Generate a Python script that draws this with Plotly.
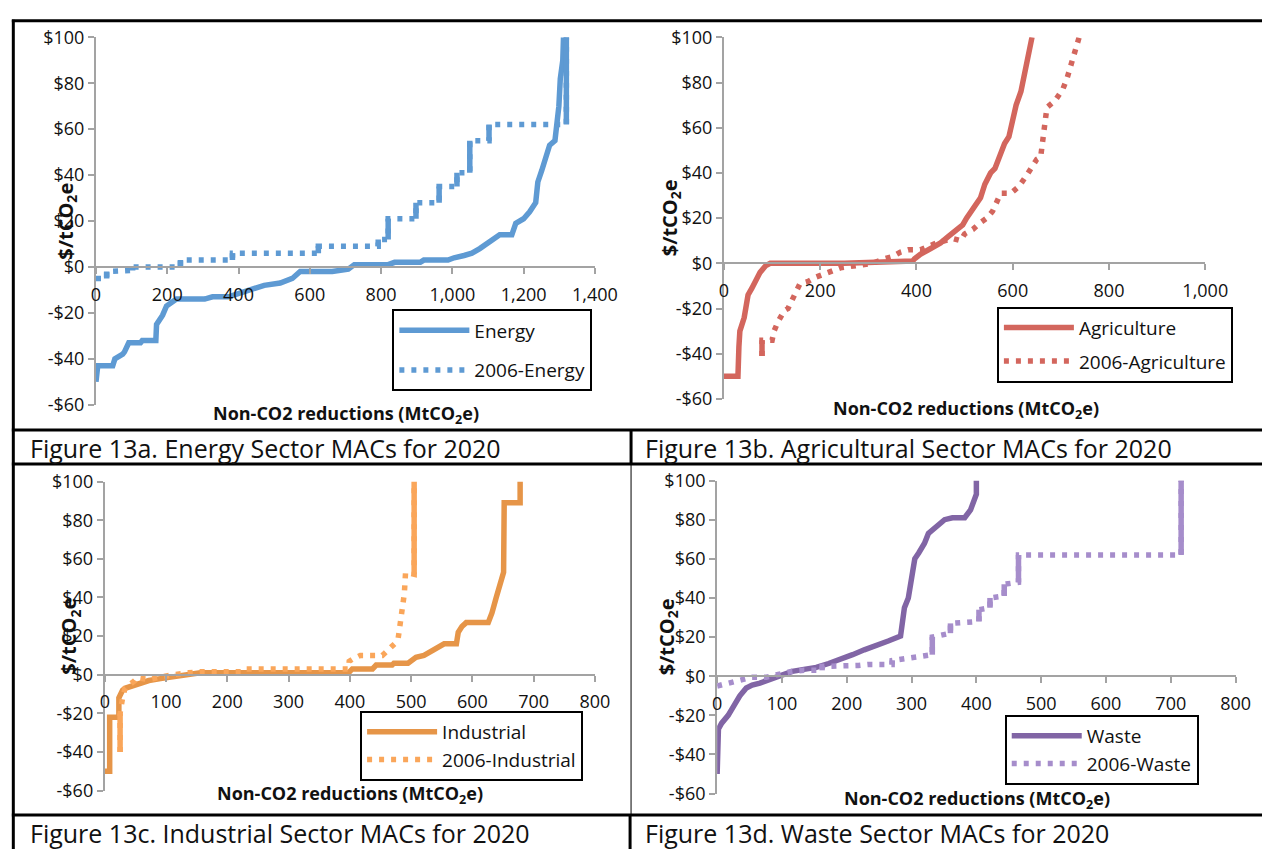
import plotly.graph_objects as go

W, H = 1285, 860
FONT = "Open Sans"

# ---------------- data ----------------
energy_x = [0, 3, 5, 47, 53, 75, 80, 92, 125, 130, 168, 170, 187, 198, 226, 305, 327, 372, 394, 428,
            472, 517, 551, 573, 663, 708, 725, 820, 838, 910, 920, 988, 1005, 1033, 1055, 1077, 1094,
            1117, 1133, 1167, 1178, 1200, 1217, 1234, 1240, 1251, 1262, 1273, 1288, 1293, 1299, 1303,
            1310, 1312]
energy_y = [-50, -45, -43, -43, -40, -38, -37, -33, -33, -32, -32, -25, -21, -17, -14, -14, -13, -13,
            -12, -10, -8, -7, -5, -2, -2, -1, 1, 1, 2, 2, 3, 3, 4, 5, 6, 8, 10, 12, 14, 14, 19, 21, 24,
            28, 37, 42, 48, 53, 55, 62, 70, 82, 90, 100]

energy06_x = [0, 30, 30, 69, 103, 103, 237, 237, 383, 383, 624, 624, 792, 792, 820, 820, 898, 898,
              963, 963, 1013, 1013, 1049, 1049, 1103, 1103, 1320, 1320]
energy06_y = [-5, -5, -2, -1.5, -1.5, 0, 0, 3, 3, 6, 6, 9, 9, 12, 12, 21, 21, 28, 28, 35, 35, 41, 41,
              55, 55, 62, 62, 100]

agri_x = [0, 29, 31, 33, 42, 50, 58, 67, 75, 87, 96, 250, 330, 392, 396, 408, 425, 450, 467, 483, 496,
          504, 517, 533, 542, 554, 563, 571, 583, 592, 598, 607, 617, 625, 632, 637, 640]
agri_y = [-50, -50, -37, -30, -24, -14, -11, -7, -4, -1, 0, 0, 0.5, 1, 2, 4, 6, 9, 12, 15, 17, 20, 24,
          29, 35, 40, 42, 47, 53, 56, 62, 70, 76, 84, 90, 95, 100]

agri06_x = [79, 79, 100, 104, 112, 125, 133, 146, 158, 175, 192, 217, 242, 275, 308, 333, 350, 367, 383,
            408, 442, 475, 492, 500, 517, 533, 546, 558, 567, 575, 596, 613, 629, 642, 650, 658, 663,
            667, 671, 688, 704, 713, 721, 729, 738]
agri06_y = [-41, -34, -34, -30, -26, -21, -20, -14, -9, -8, -6, -4, -2, -1, 0, 2, 3, 5, 6, 6, 9, 11, 10,
            13, 15, 18, 20, 23, 27, 31, 31, 34, 39, 43, 46, 47, 55, 65, 69, 72, 77, 82, 88, 94, 100]

ind_x = [0, 8, 8, 23, 23, 29, 33, 52, 59, 72, 91, 111, 130, 156, 398, 404, 437, 443, 469, 472, 495, 499,
         508, 521, 538, 551, 554, 574, 577, 583, 590, 626, 632, 639, 644, 651, 652, 678, 678]
ind_y = [-50, -50, -22, -22, -12, -8, -7, -5, -4, -3, -2, -1, 0, 1, 1, 3, 3, 5, 5, 6, 6, 7, 9, 10, 13,
         15, 16, 16, 22, 25, 27, 27, 32, 40, 46, 53, 89, 89, 100]

ind06_x = [25, 25, 29, 33, 49, 52, 72, 91, 111, 137, 156, 222, 228, 398, 399, 404, 417, 433, 453, 463,
           473, 479, 482, 486, 489, 491, 505, 505]
ind06_y = [-40, -20, -12, -7, -3, -1.5, -2.5, -1, 0, 1, 1.5, 1.5, 3, 3, 7, 8, 10, 10, 10, 13, 16, 19,
           25, 35, 42, 53, 52, 100]

waste_x = [0, 2, 7, 17, 26, 35, 45, 54, 66, 79, 97, 116, 134, 153, 172, 190, 209, 227, 246, 264, 283,
           286, 289, 295, 299, 305, 311, 320, 326, 339, 351, 363, 382, 391, 398, 400, 400]
waste_y = [-50, -27, -24, -20, -15, -10, -6, -4.5, -3.5, -2, 0, 2.5, 3.5, 4.5, 6.5, 8.5, 11, 13.5, 15.5,
           18, 20.5, 30, 35, 40, 50, 60, 63, 68, 73, 77, 80, 81, 81, 85, 90, 93, 100]

waste06_x = [0, 17, 35, 54, 76, 91, 100, 116, 134, 162, 162, 181, 199, 218, 233, 270, 270, 289, 305,
             320, 332, 332, 351, 360, 360, 379, 404, 404, 421, 421, 443, 443, 465, 465, 716, 716]
waste06_y = [-5, -3.5, -1.5, -0.5, -0.5, 0.5, 1.5, 2.5, 3, 3, 5, 5, 5.5, 5.5, 6, 6, 8, 9, 10, 10.5, 11,
             20, 21, 22, 27, 27.5, 28, 34, 35, 40, 41, 47, 48, 62, 62, 100]

y_tickvals = [-60, -40, -20, 0, 20, 40, 60, 80, 100]
y_ticktext = ["-$60", "-$40", "-$20", "$0", "$20", "$40", "$60", "$80", "$100"]
x_ticks_a = [0, 200, 400, 600, 800, 1000, 1200, 1400]
x_ticks_b = [0, 200, 400, 600, 800, 1000]
x_ticks_cd = [0, 100, 200, 300, 400, 500, 600, 700, 800]

captions = ["Figure 13a. Energy Sector MACs for 2020",
            "Figure 13b. Agricultural Sector MACs for 2020",
            "Figure 13c. Industrial Sector MACs for 2020",
            "Figure 13d. Waste Sector MACs for 2020"]

# ---------------- helpers ----------------
def px(p):
    return p / W


def py(p):
    return 1 - p / H


def vertical_parts(xs, ys):
    vx, vy = [], []
    for i in range(len(xs) - 1):
        if xs[i] == xs[i + 1]:
            vx += [xs[i], xs[i + 1], None]
            vy += [ys[i], ys[i + 1], None]
    return vx, vy


BLUE = "#5E9AD3"
RED = "#D3665D"
ORANGE = "#E69548"
ORANGE_L = "#FAA65A"
PURPLE = "#8165A5"
PURPLE_L = "#A68DCB"
AXIS = "#A3A3A3"
TXT = "#111111"

panels = [
    dict(sfx="", leg="legend", x0=93, x1=603, top=25, bot=403, xmax=1400, ticks=x_ticks_a,
         name="Energy", sx=energy_x, sy=energy_y, dx=energy06_x, dy=energy06_y, c1=BLUE, c2=BLUE,
         legpos=(396, 305), gap=12, xtitle=(349, 413), ytx=62, cap=(24, 447)),
    dict(sfx="2", leg="legend2", x0=735, x1=1227, top=25, bot=397, xmax=1000, ticks=x_ticks_b,
         name="Agriculture", sx=agri_x, sy=agri_y, dx=agri06_x, dy=agri06_y, c1=RED, c2=RED,
         legpos=(1014, 302), gap=6, xtitle=(982, 408), ytx=680, cap=(652, 447)),
    dict(sfx="3", leg="legend3", x0=102, x1=603, top=482, bot=800, xmax=800, ticks=x_ticks_cd,
         name="Industrial", sx=ind_x, sy=ind_y, dx=ind06_x, dy=ind06_y, c1=ORANGE, c2=ORANGE_L,
         legpos=(363, 718), gap=0, xtitle=(353, 804), ytx=66, cap=(24, 844)),
    dict(sfx="4", leg="legend4", x0=728, x1=1258, top=481, bot=803, xmax=800, ticks=x_ticks_cd,
         name="Waste", sx=waste_x, sy=waste_y, dx=waste06_x, dy=waste06_y, c1=PURPLE, c2=PURPLE_L,
         legpos=(1022, 722), gap=0, xtitle=(994, 809), ytx=677, cap=(652, 844)),
]

fig = go.Figure()
layout = dict(width=W, height=H, margin=dict(l=0, r=0, t=0, b=0), autosize=False,
              paper_bgcolor="white", plot_bgcolor="white", showlegend=True,
              font=dict(family=FONT, color=TXT))
annotations = []
shapes = []

for p in panels:
    xa = "x" + p["sfx"]
    ya = "y" + p["sfx"]
    ybot, ytop = py(p["bot"]), py(p["top"])
    zero_pos = ybot + (0 - (-60)) / 160 * (ytop - ybot)
    layout["xaxis" + p["sfx"]] = dict(
        domain=[px(p["x0"]), px(p["x1"])], range=[0, p["xmax"]], anchor="free", position=zero_pos,
        showline=True, linecolor=AXIS, linewidth=2, ticks="outside", ticklen=6, tickwidth=2,
        tickcolor=AXIS, tickvals=p["ticks"], tickformat=",d", showgrid=False, zeroline=False,
        ticklabelstandoff=5, tickfont=dict(family=FONT, size=18, color=TXT))
    layout["yaxis" + p["sfx"]] = dict(
        domain=[ybot, ytop], range=[-60, 100], anchor=xa, showline=True, linecolor=AXIS,
        linewidth=2, ticks="outside", ticklen=6, tickwidth=2, tickcolor=AXIS,
        tickvals=y_tickvals, ticktext=y_ticktext, showgrid=False, zeroline=False,
        tickfont=dict(family=FONT, size=18, color=TXT))

    fig.add_trace(go.Scatter(x=p["sx"], y=p["sy"], mode="lines", name=p["name"],
                             line=dict(color=p["c1"], width=5.5), xaxis=xa, yaxis=ya,
                             legend=p["leg"], legendgroup=p["name"] + "a", hoverinfo="skip"))
    fig.add_trace(go.Scatter(x=p["dx"], y=p["dy"], mode="lines", name="2006-" + p["name"],
                             line=dict(color=p["c2"], width=5.5, dash="5px,7px"), xaxis=xa, yaxis=ya,
                             legend=p["leg"], legendgroup=p["name"] + "b", hoverinfo="skip"))
    vx, vy = vertical_parts(p["dx"], p["dy"])
    fig.add_trace(go.Scatter(x=vx, y=vy, mode="lines", showlegend=False,
                             line=dict(color=p["c2"], width=5.5), xaxis=xa, yaxis=ya,
                             legendgroup=p["name"] + "b", hoverinfo="skip"))

    lx, ly = p["legpos"]
    layout[p["leg"]] = dict(x=px(lx), y=py(ly), xanchor="left", yanchor="top",
                            bordercolor="black", borderwidth=2, bgcolor="white",
                            font=dict(family=FONT, size=19, color=TXT),
                            itemwidth=70, tracegroupgap=p["gap"])

    annotations.append(dict(text="Non-CO2 reductions (MtCO<sub>2</sub>e)", xref="paper", yref="paper",
                            x=px(p["xtitle"][0]), y=py(p["xtitle"][1]), showarrow=False,
                            font=dict(family=FONT, size=18, color=TXT, weight="bold"),
                            xanchor="center", yanchor="middle"))
    annotations.append(dict(text="$/tCO<sub>2</sub>e", xref="paper", yref=ya, x=px(p["ytx"]), y=20,
                            textangle=-90, showarrow=False,
                            font=dict(family=FONT, size=20, color=TXT, weight="bold"),
                            xanchor="center", yanchor="middle"))

for i, p in enumerate(panels):
    annotations.append(dict(text=captions[i], xref="paper", yref="paper", x=px(p["cap"][0]),
                            y=py(p["cap"][1]), showarrow=False, xanchor="left", yanchor="middle",
                            font=dict(family=FONT, size=25, color=TXT)))


def hline(y, x0, x1, w):
    return dict(type="line", xref="paper", yref="paper", x0=px(x0), x1=px(x1), y0=py(y), y1=py(y),
                line=dict(color="black", width=w))


def vline(x, y0, y1, w):
    return dict(type="line", xref="paper", yref="paper", x0=px(x), x1=px(x), y0=py(y0), y1=py(y1),
                line=dict(color="black", width=w))


shapes += [hline(8, 7, 1285, 3), vline(8.5, 7, 860, 3), hline(429, 7, 1285, 3),
           hline(464, 7, 1285, 3), hline(825, 7, 1285, 3), vline(640, 429, 464, 3),
           vline(640, 464, 825, 1), vline(639, 825, 860, 3)]

layout["annotations"] = annotations
layout["shapes"] = shapes
fig.update_layout(**layout)
fig.write_html("out.html",
               post_script="document.body.style.margin='0px';document.body.style.overflow='hidden';")
